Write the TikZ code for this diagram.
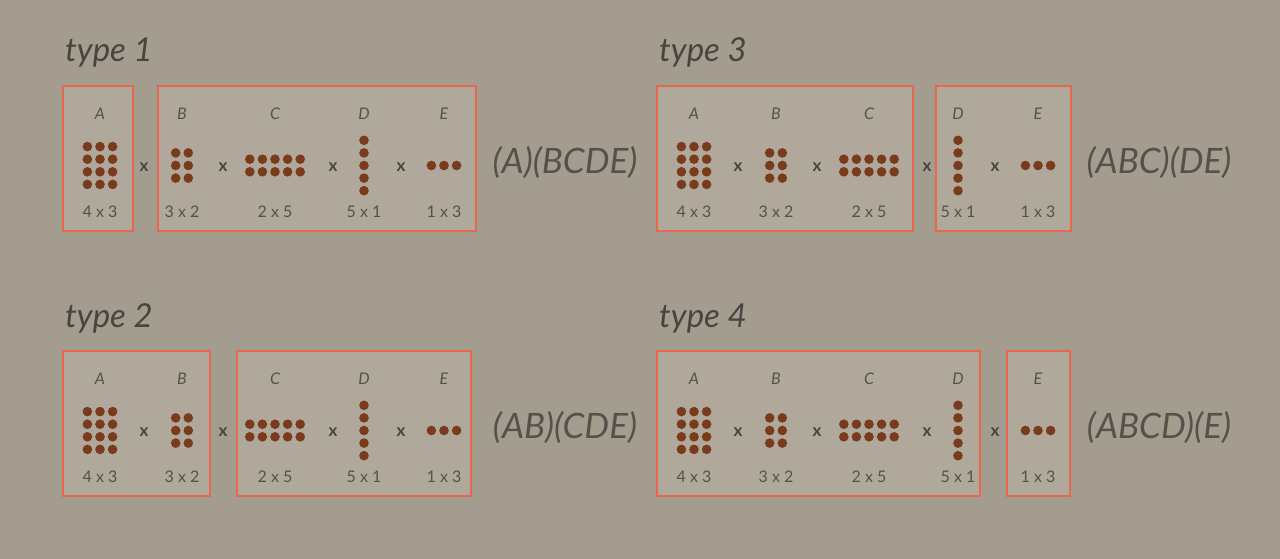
\documentclass[tikz,border=0pt]{standalone}
\usepackage{fontspec}
\setmainfont{Lato}
\usepackage{tikz}

\definecolor{paper}{HTML}{A59C90}
\definecolor{boxfill}{HTML}{B0A89B}
\definecolor{boxline}{HTML}{E8674F}
\definecolor{bead}{HTML}{7A3A1C}
\definecolor{ink}{HTML}{4A433F}
\definecolor{softink}{HTML}{57504B}

\tikzset{
  grp/.style={draw=boxline, line width=1.8pt, fill=boxfill},
  matname/.style={font=\fontsize{16}{16}\selectfont\itshape, text=softink},
  dims/.style={font=\fontsize{16}{16}\selectfont, text=softink},
  times/.style={font=\fontsize{17}{17}\selectfont\bfseries, text=ink},
  typelabel/.style={font=\fontsize{33}{33}\selectfont\itshape, text=ink, anchor=base west, inner sep=0pt},
  result/.style={font=\fontsize{35}{35}\selectfont\itshape, text=softink},
}

\begin{document}
\begin{tikzpicture}[x=1pt, y=-1pt]
    \fill[paper] (0,0) rectangle (1280,559);
    % one panel per type: offset, the two groupings, the bracketing
    \foreach \t/\ox/\oy/\ba/\bb/\bc/\res in {1/0/0/133/158/476/(A)(BCDE), 2/0/265/210/237/471/(AB)(CDE), 3/594/0/319/342/477/(ABC)(DE), 4/594/265/386/413/476/(ABCD)(E)} {
      \begin{scope}[shift={(\ox,\oy)}]
        \node[typelabel] (type\t) at (65,62) {type \t};
        \draw[grp] (63,86) rectangle (\ba,231);
        \draw[grp] (\bb,86) rectangle (\bc,231);
        \foreach \g/\gx/\rows/\cols/\dim in {A/100/4/3/4 x 3, B/182/3/2/3 x 2, C/275/2/5/2 x 5, D/364/5/1/5 x 1, E/444/1/3/1 x 3} {
          \node[matname] (m\t\g) at (\gx,114) {\g};
          \foreach \r in {1,...,\rows} \foreach \c in {1,...,\cols}
            \fill[bead] ({\gx+(\c-(\cols+1)/2)*12.6}, {165.5+(\r-(\rows+1)/2)*12.6}) circle (4.8pt);
          \node[dims] (d\t\g) at (\gx,212) {\dim};
        }
        \foreach \xx [count=\i] in {144,223,333,401} \node[times] (x\t\i) at (\xx,167) {x};
        \node[result] (res\t) at (565,162) {\res};
      \end{scope}
    }
\end{tikzpicture}
\end{document}
